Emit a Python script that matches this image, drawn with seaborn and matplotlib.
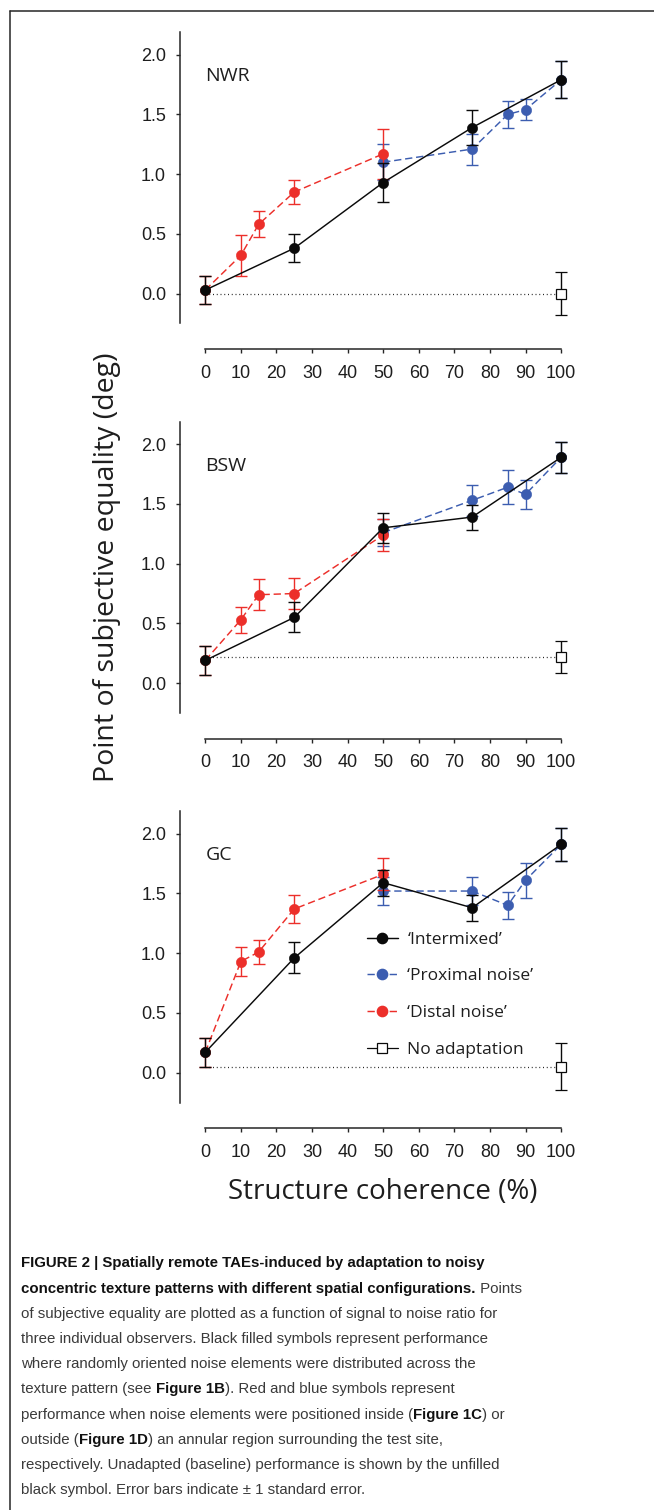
import matplotlib
matplotlib.use("Agg")
import matplotlib.pyplot as plt
import seaborn as sns
from matplotlib.lines import Line2D
from matplotlib import font_manager

# ---- data -------------------------------------------------------------
observers = ["NWR", "BSW", "GC"]

x_intermixed = [0, 25, 50, 75, 100]
x_distal = [0, 10, 15, 25, 50]
x_proximal = [50, 75, 85, 90, 100]
x_baseline = [100]

intermixed_pse = {
    "NWR": [0.03, 0.38, 0.93, 1.39, 1.79],
    "BSW": [0.19, 0.55, 1.30, 1.39, 1.89],
    "GC": [0.17, 0.96, 1.59, 1.38, 1.91],
}
intermixed_se = {
    "NWR": [0.12, 0.115, 0.16, 0.15, 0.155],
    "BSW": [0.12, 0.125, 0.125, 0.105, 0.13],
    "GC": [0.12, 0.13, 0.11, 0.11, 0.135],
}
distal_pse = {
    "NWR": [0.03, 0.32, 0.58, 0.85, 1.17],
    "BSW": [0.19, 0.53, 0.74, 0.75, 1.24],
    "GC": [0.17, 0.93, 1.01, 1.37, 1.66],
}
distal_se = {
    "NWR": [0.12, 0.17, 0.11, 0.10, 0.21],
    "BSW": [0.12, 0.11, 0.13, 0.13, 0.13],
    "GC": [0.12, 0.12, 0.10, 0.12, 0.135],
}
proximal_pse = {
    "NWR": [1.10, 1.21, 1.50, 1.54, 1.79],
    "BSW": [1.26, 1.53, 1.64, 1.58, 1.89],
    "GC": [1.52, 1.52, 1.40, 1.61, 1.91],
}
proximal_se = {
    "NWR": [0.15, 0.13, 0.115, 0.09, 0.155],
    "BSW": [0.115, 0.13, 0.14, 0.12, 0.13],
    "GC": [0.12, 0.12, 0.115, 0.145, 0.135],
}
baseline_pse = {"NWR": [0.0], "BSW": [0.22], "GC": [0.05]}
baseline_se = {"NWR": [0.18], "BSW": [0.135], "GC": [0.195]}

x_ticks = [0, 10, 20, 30, 40, 50, 60, 70, 80, 90, 100]
y_ticks = [0.0, 0.5, 1.0, 1.5, 2.0]

legend_labels = ["\u2018Intermixed\u2019", "\u2018Proximal noise\u2019",
                 "\u2018Distal noise\u2019", "No adaptation"]

caption_lines = [
    [("FIGURE 2 | Spatially remote TAEs-induced by adaptation to noisy", True)],
    [("concentric texture patterns with different spatial configurations.", True),
     (" Points", False)],
    [("of subjective equality are plotted as a function of signal to noise ratio for", False)],
    [("three individual observers. Black filled symbols represent performance", False)],
    [("where randomly oriented noise elements were distributed across the", False)],
    [("texture pattern (see ", False), ("Figure 1B", True),
     ("). Red and blue symbols represent", False)],
    [("performance when noise elements were positioned inside (", False),
     ("Figure 1C", True), (") or", False)],
    [("outside (", False), ("Figure 1D", True),
     (") an annular region surrounding the test site,", False)],
    [("respectively. Unadapted (baseline) performance is shown by the unfilled", False)],
    [("black symbol. Error bars indicate \u00b1 1 standard error.", False)],
]

# ---- style ------------------------------------------------------------
sns.set_theme(style="ticks")
plt.rcParams["font.family"] = ["Liberation Sans", "DejaVu Sans"]
LABEL_FONT = ["Open Sans", "DejaVu Sans"]

INK = "#262626"
RED = "#ec2f2a"
BLUE = "#3c5db0"
BLACK = "#0a0a0a"

W, H = 654, 1510
fig = plt.figure(figsize=(W / 100, H / 100), dpi=100)
fig.patch.set_facecolor("white")


def px_rect(left, top, right, bottom):
    return [left / W, 1 - bottom / H, (right - left) / W, (bottom - top) / H]


panel_tops = [32, 421.5, 811]
panel_h = 291.5
axes = [fig.add_axes(px_rect(180, t, 586, t + panel_h)) for t in panel_tops]


def draw_series(ax, x, y, e, color, ls, z):
    ax.errorbar(x, y, yerr=e, fmt="none", ecolor=color, elinewidth=1.0,
                capsize=4, capthick=1.0, zorder=z)
    sns.lineplot(x=x, y=y, ax=ax, color=color, linestyle=ls, linewidth=1.05,
                 marker="o", markersize=7.4, markeredgecolor=color,
                 markeredgewidth=0.4, zorder=z + 0.5, sort=False,
                 estimator=None)


dash = (0, (5, 2.6))
for ax, obs in zip(axes, observers):
    base = baseline_pse[obs][0]
    ax.plot([x_intermixed[0], x_baseline[0]], [base, base], color=INK,
            linewidth=0.9, linestyle=(0, (0.8, 2.2)), zorder=1)
    draw_series(ax, x_proximal, proximal_pse[obs], proximal_se[obs], BLUE, dash, 2)
    draw_series(ax, x_distal, distal_pse[obs], distal_se[obs], RED, dash, 3)
    draw_series(ax, x_intermixed, intermixed_pse[obs], intermixed_se[obs],
                BLACK, "-", 4)
    ax.errorbar(x_baseline, baseline_pse[obs], yerr=baseline_se[obs], fmt="s",
                color=BLACK, markerfacecolor="white", markeredgecolor=BLACK,
                markersize=7.0, markeredgewidth=0.9, elinewidth=1.0,
                capsize=4, capthick=1.0, zorder=5)
    if ax.get_legend() is not None:
        ax.get_legend().remove()

    ax.set_xlim(-7.1, 107)
    ax.set_ylim(-0.25, 2.19)
    ax.set_xticks(x_ticks)
    ax.set_xticklabels([str(v) for v in x_ticks])
    ax.set_yticks(y_ticks)
    ax.set_yticklabels([f"{v:.1f}" for v in y_ticks])
    for side in ("top", "right"):
        ax.spines[side].set_visible(False)
    ax.spines["bottom"].set_position(("outward", 18.7))
    ax.spines["bottom"].set_bounds(x_ticks[0], x_ticks[-1])
    for side in ("left", "bottom"):
        ax.spines[side].set_color(INK)
        ax.spines[side].set_linewidth(1.1)
    ax.tick_params(axis="both", direction="out", length=3, width=1.0,
                   color=INK, labelsize=13, labelcolor="#1e1e1e")
    ax.tick_params(axis="y", pad=7)
    ax.tick_params(axis="x", pad=8)
    ax.set_xlabel("")
    ax.set_ylabel("")
    ax.text(0, 1.82, obs, ha="left", va="center", fontsize=14,
            family=LABEL_FONT, color="#1e1e1e")

# axis titles
axes[1].set_ylabel("Point of subjective equality (deg)", fontsize=20.5,
                   family=LABEL_FONT, color="#1e1e1e")
axes[1].yaxis.set_label_coords((107 - 180) / (586 - 180), 0.5)
axes[1].yaxis.label.set_verticalalignment("center")
axes[2].set_xlabel("Structure coherence (%)", fontsize=20, family=LABEL_FONT,
                   color="#1e1e1e")
axes[2].xaxis.set_label_coords(0.5, 1 - (1192 - 811) / panel_h)
axes[2].xaxis.label.set_verticalalignment("center")

# legend on the last panel
handles = [
    Line2D([], [], color=BLACK, linestyle="-", linewidth=1.05, marker="o",
           markersize=7.4, markeredgecolor=BLACK),
    Line2D([], [], color=BLUE, linestyle=dash, linewidth=1.05, marker="o",
           markersize=7.4, markeredgecolor=BLUE),
    Line2D([], [], color=RED, linestyle=dash, linewidth=1.05, marker="o",
           markersize=7.4, markeredgecolor=RED),
    Line2D([], [], color=BLACK, linestyle="-", linewidth=0.9, marker="s",
           markersize=7.0, markerfacecolor="white", markeredgecolor=BLACK,
           markeredgewidth=0.9),
]
leg = axes[2].legend(handles, legend_labels, loc="upper left",
                     bbox_to_anchor=(366.7 / W, 1 - 931.5 / H),
                     bbox_transform=fig.transFigure, frameon=False,
                     prop={"family": LABEL_FONT, "size": 12.5},
                     handlelength=1.8, handletextpad=0.55, labelspacing=1.19,
                     borderpad=0, borderaxespad=0)
for t in leg.get_texts():
    t.set_color("#1e1e1e")

# frame lines of the figure panel
fig.add_artist(Line2D([10 / W, 1], [1 - 11 / H, 1 - 11 / H],
                      transform=fig.transFigure, color=INK, linewidth=1.1))
fig.add_artist(Line2D([10 / W, 10 / W], [1 - 11 / H, 0],
                      transform=fig.transFigure, color=INK, linewidth=1.1))

# caption
names = {f.name for f in font_manager.fontManager.ttflist}
cap_family = ["Liberation Sans Narrow"] if "Liberation Sans Narrow" in names \
    else ["Liberation Sans"]
renderer = fig.canvas.get_renderer()


def text_width(s, bold, size):
    kw = dict(fontsize=size, family=cap_family,
              fontweight="bold" if bold else "normal")
    a = fig.text(0, 0, s + "|", **kw)
    b = fig.text(0, 0, "|", **kw)
    w = a.get_window_extent(renderer).width - b.get_window_extent(renderer).width
    a.remove()
    b.remove()
    return w


ref_line = caption_lines[2][0][0]
cap_size = 10 * 480 / text_width(ref_line, False, 10)

for i, line in enumerate(caption_lines):
    y = 1262 + 25.2 * i
    x = 21.0
    for seg, bold in line:
        fig.text(x / W, 1 - y / H, seg, ha="left", va="center_baseline",
                 fontsize=cap_size, family=cap_family,
                 fontweight="bold" if bold else "normal",
                 color="#111111" if bold else "#3a3a3a")
        x += text_width(seg, bold, cap_size)

fig.savefig("out.png", dpi=100, facecolor="white")
